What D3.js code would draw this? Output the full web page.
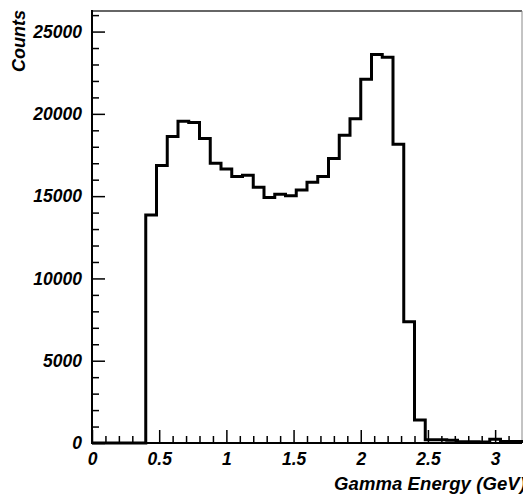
<!DOCTYPE html>
<html>
<head>
<meta charset="utf-8">
<script src="https://cdn.jsdelivr.net/npm/d3@7"></script>
<style>
  body { margin: 0; background: #fff; }
  svg { display: block; }
  text { font-family: "Liberation Sans", Arial, Helvetica, sans-serif; font-style: italic; font-weight: bold; fill: #000; }
</style>
</head>
<body>
<svg width="523" height="494"></svg>
<script>
// histogram: 40 bins of 0.08 GeV from 0 to 3.2
var binWidth = 0.08;
var counts = [0, 0, 0, 0, 0,
    13850, 16860, 18620, 19550, 19470, 18500, 17000, 16650, 16190, 16270,
    15540, 14920, 15110, 15030, 15380, 15840, 16190, 17280, 18700, 19710,
    22110, 23600, 23440, 18160, 7370, 1400, 200, 190, 170, 80,
    70, 60, 230, 90, 90];

var xMajor = [0, 0.5, 1, 1.5, 2, 2.5, 3];
var xLabels = ["0", "0.5", "1", "1.5", "2", "2.5", "3"];
var xMinor = [0.1, 0.2, 0.3, 0.4, 0.6, 0.7, 0.8, 0.9, 1.1, 1.2, 1.3, 1.4, 1.6, 1.7, 1.8, 1.9,
    2.1, 2.2, 2.3, 2.4, 2.6, 2.7, 2.8, 2.9, 3.1];
var yMajor = [0, 5000, 10000, 15000, 20000, 25000];
var yMinor = [1000, 2000, 3000, 4000, 6000, 7000, 8000, 9000, 11000, 12000, 13000, 14000,
    16000, 17000, 18000, 19000, 21000, 22000, 23000, 24000, 26000];

var xTitle = "Gamma Energy (GeV)";
var yTitle = "Counts";

var svg = d3.select("svg");

// plot frame (pixels)
var fLeft = 92, fRight = 522, fTop = 11, fBottom = 443;

var x = d3.scaleLinear()
    .domain([0, 3.2])
    .range([fLeft, fRight]);

var y = d3.scaleLinear()
    .domain([0, 26250])
    .range([fBottom, fTop]);

// frame
svg.append("line")
    .attr("x1", fLeft).attr("x2", fRight)
    .attr("y1", fTop).attr("y2", fTop)
    .attr("stroke", "#333").attr("stroke-width", 1.5);
svg.append("line")
    .attr("x1", fRight).attr("x2", fRight)
    .attr("y1", fTop).attr("y2", fBottom)
    .attr("stroke", "#888").attr("stroke-width", 1);

// histogram outline
var pts = [[0, 0]];
counts.forEach(function (c, i) {
    pts.push([i * binWidth, c]);
});
pts.push([counts.length * binWidth, counts[counts.length - 1]]);
pts.push([counts.length * binWidth, 0]);

var line = d3.line()
    .x(function (d) { return x(d[0]); })
    .y(function (d) { return y(d[1]); })
    .curve(d3.curveStepAfter);

svg.append("path")
    .datum(pts)
    .attr("fill", "none")
    .attr("stroke", "#000")
    .attr("stroke-width", 3)
    .attr("stroke-linejoin", "miter")
    .attr("d", line);

// axes
var gx = svg.append("g")
    .attr("transform", "translate(0," + fBottom + ")");
gx.call(d3.axisBottom(x)
        .tickValues(xMinor)
        .tickSize(-7)
        .tickFormat(""));
gx.select(".domain").remove();
var gx2 = svg.append("g")
    .attr("transform", "translate(0," + fBottom + ")");
gx2.call(d3.axisBottom(x)
        .tickValues(xMajor)
        .tickSize(-13)
        .tickPadding(10)
        .tickFormat(function (d, i) { return xLabels[i]; }));
gx2.select(".domain").remove();

var gy = svg.append("g")
    .attr("transform", "translate(" + fLeft + ",0)");
gy.call(d3.axisLeft(y)
        .tickValues(yMinor)
        .tickSize(-7)
        .tickFormat(""));
gy.select(".domain").remove();
var gy2 = svg.append("g")
    .attr("transform", "translate(" + fLeft + ",0)");
gy2.call(d3.axisLeft(y)
        .tickValues(yMajor)
        .tickSize(-13)
        .tickPadding(10)
        .tickFormat(d3.format("d")));
gy2.select(".domain").remove();

svg.selectAll(".tick line").attr("stroke", "#000").attr("stroke-width", 1.5);
svg.selectAll(".tick text")
    .attr("font-family", null)
    .attr("font-size", null)
    .style("font-size", "17.5px");

// axis lines
svg.append("line")
    .attr("x1", fLeft).attr("x2", fRight)
    .attr("y1", fBottom).attr("y2", fBottom)
    .attr("stroke", "#000").attr("stroke-width", 2);
svg.append("line")
    .attr("x1", fLeft).attr("x2", fLeft)
    .attr("y1", fTop - 1).attr("y2", fBottom + 1)
    .attr("stroke", "#000").attr("stroke-width", 2);

// titles
svg.append("text")
    .attr("x", 334)
    .attr("y", 490)
    .style("font-size", "18.5px")
    .style("letter-spacing", "0.1px")
    .text(xTitle);

svg.append("text")
    .attr("transform", "translate(25,10) rotate(-90)")
    .attr("text-anchor", "end")
    .style("font-size", "18px")
    .text(yTitle);
</script>
</body>
</html>
